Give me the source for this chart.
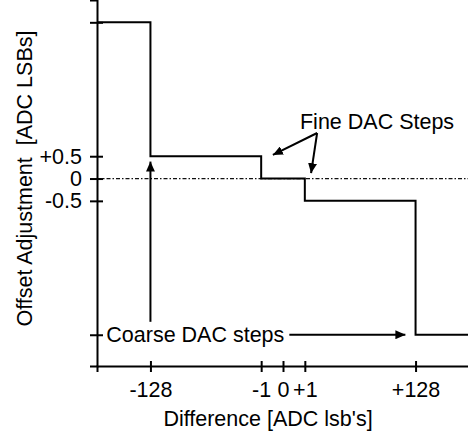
<!DOCTYPE html>
<html>
<head>
<meta charset="utf-8">
<script src="https://cdn.jsdelivr.net/npm/d3@7"></script>
<style>
  body { margin: 0; background: #fff; }
  svg { display: block; font-family: "Liberation Sans", Arial, Helvetica, sans-serif; }
</style>
</head>
<body>
<div id="chart"></div>
<script>
// step breakpoints (difference) and the offset held from each one on
var diffBreaks = [-1024, -128, -1, 1, 128, 1024];
var offsetLevels = [3.5, 0.5, 0, -0.5, -3.5, -3.5];

var xTicks = [-128, -1, 0, 1, 128];
var xTickLabels = ["-128", "-1", "0", "+1", "+128"];
var yTicks = [3.5, 0.5, 0, -0.5, -3.5];
var yTickLabels = ["", "+0.5", "0", "-0.5", ""];

// annotations, in data units [difference, offset]
var fineLabel = [0.7, 1.1];
var fineFrom = [2.07, 1.02];
var fineTips = [[-0.36, 0.53], [1.48, 0.12]];
var coarseLabel = [-714, -3.5];
var coarseUp = [[-128, -3.21], [-128, 0.38]];
var coarseRightTip = [86, -3.5];

var fontSize = 21.5;

function run() {
  var width = 468,
    height = 432;

  var svg = d3
    .select("#chart")
    .append("svg")
    .attr("width", width)
    .attr("height", height);

  svg
    .append("defs")
    .append("marker")
    .attr("id", "arrow")
    .attr("viewBox", "0 0 10 9")
    .attr("refX", 10)
    .attr("refY", 4.5)
    .attr("markerWidth", 10)
    .attr("markerHeight", 9)
    .attr("markerUnits", "userSpaceOnUse")
    .attr("orient", "auto")
    .append("path")
    .attr("d", "M0,0L10,4.5L0,9Z")
    .attr("fill", "#000");

  // schematic axis: symlog keeps +-1 visible next to +-128
  var x = d3
    .scaleSymlog()
    .constant(0.75)
    .domain([-1024, 1024])
    .range([97, 469]);

  var y = d3
    .scaleLinear()
    .domain([-4.2, 4])
    .range([366, 0]);

  // zero reference, dash-dot
  svg
    .append("line")
    .attr("x1", x(-1024))
    .attr("x2", x(1024))
    .attr("y1", y(0))
    .attr("y2", y(0))
    .attr("stroke", "#111")
    .attr("stroke-width", 1.3)
    .attr("stroke-dasharray", "4,2,1.5,2");

  var xAxis = svg
    .append("g")
    .attr("transform", "translate(0," + y(-4.2) + ")")
    .call(
      d3
        .axisBottom(x)
        .tickValues(xTicks)
        .tickFormat(function(d, i) {
          return xTickLabels[i];
        })
        .tickSizeOuter(0)
        .tickSize(6)
        .tickPadding(10)
    )
    .attr("font-size", fontSize)
    .attr("font-family", null);
  xAxis.selectAll(".tick line").attr("y1", -5).attr("y2", 6);

  var yAxis = svg
    .append("g")
    .attr("transform", "translate(" + x(-1024) + ",0)")
    .call(
      d3
        .axisLeft(y)
        .tickValues(yTicks)
        .tickFormat(function(d, i) {
          return yTickLabels[i];
        })
        .tickSizeOuter(0)
        .tickSize(7)
        .tickPadding(8)
    )
    .attr("font-size", fontSize)
    .attr("font-family", null);
  yAxis.selectAll(".tick line").attr("x1", 6).attr("x2", -7);

  svg.selectAll(".domain, .tick line").attr("stroke", "#000").attr("stroke-width", 2);
  svg.selectAll(".tick text").attr("fill", "#000");

  var step = d3
    .line()
    .x(function(d) {
      return x(d[0]);
    })
    .y(function(d) {
      return y(d[1]);
    })
    .curve(d3.curveStepAfter);

  svg
    .append("path")
    .datum(d3.zip(diffBreaks, offsetLevels))
    .attr("d", step)
    .attr("fill", "none")
    .attr("stroke", "#000")
    .attr("stroke-width", 2);

  // Fine DAC steps
  svg
    .append("text")
    .attr("x", x(fineLabel[0]))
    .attr("y", y(fineLabel[1]))
    .attr("font-size", fontSize)
    .text("Fine DAC Steps");

  svg
    .selectAll(".fine")
    .data(fineTips)
    .enter()
    .append("line")
    .attr("class", "fine")
    .attr("x1", x(fineFrom[0]))
    .attr("y1", y(fineFrom[1]))
    .attr("x2", function(d) {
      return x(d[0]);
    })
    .attr("y2", function(d) {
      return y(d[1]);
    })
    .attr("stroke", "#000")
    .attr("stroke-width", 2)
    .attr("marker-end", "url(#arrow)");

  // Coarse DAC steps
  var coarse = svg
    .append("text")
    .attr("x", x(coarseLabel[0]))
    .attr("y", y(coarseLabel[1]))
    .attr("dy", "0.35em")
    .attr("font-size", fontSize)
    .text("Coarse DAC steps");

  var textEnd = x(coarseLabel[0]) + coarse.node().getComputedTextLength();

  svg
    .append("line")
    .attr("x1", textEnd + 5)
    .attr("y1", y(coarseRightTip[1]))
    .attr("x2", x(coarseRightTip[0]))
    .attr("y2", y(coarseRightTip[1]))
    .attr("stroke", "#000")
    .attr("stroke-width", 2)
    .attr("marker-end", "url(#arrow)");

  svg
    .append("line")
    .attr("x1", x(coarseUp[0][0]))
    .attr("y1", y(coarseUp[0][1]))
    .attr("x2", x(coarseUp[1][0]))
    .attr("y2", y(coarseUp[1][1]))
    .attr("stroke", "#000")
    .attr("stroke-width", 2)
    .attr("marker-end", "url(#arrow)");

  // axis titles
  svg
    .append("text")
    .attr("x", 268)
    .attr("y", 426)
    .attr("text-anchor", "middle")
    .attr("font-size", fontSize)
    .text("Difference [ADC lsb's]");

  svg
    .append("text")
    .attr("transform", "translate(32," + y(0) + ") rotate(-90)")
    .attr("text-anchor", "middle")
    .attr("font-size", fontSize)
    .style("white-space", "pre")
    .text("Offset Adjustment  [ADC LSBs]");
}

(function() {
  run();
})();
</script>
</body>
</html>
